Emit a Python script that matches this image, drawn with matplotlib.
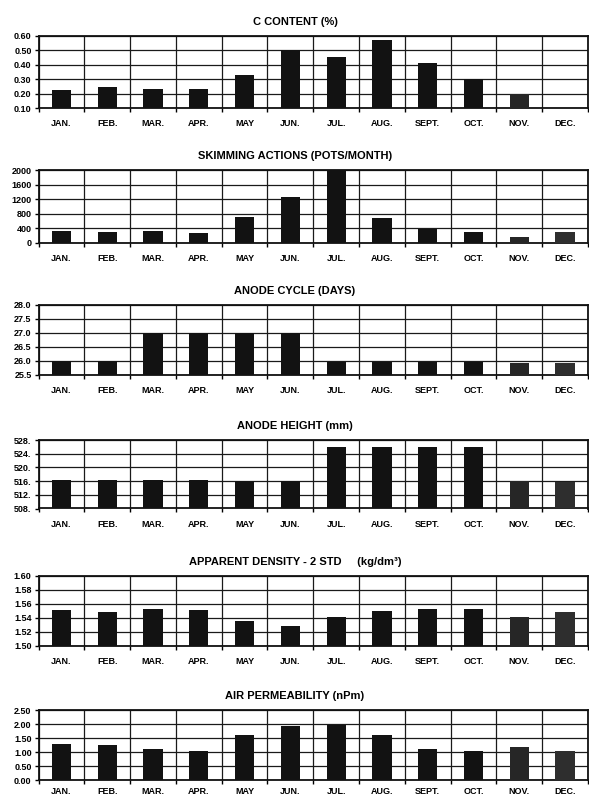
import matplotlib
matplotlib.use('Agg')
import matplotlib.pyplot as plt
import numpy as np

plt.rcParams['font.family'] = ['Liberation Sans', 'DejaVu Sans']
plt.rcParams['font.weight'] = 'bold'

meses = ['JAN.', 'FEB.', 'MAR.', 'APR.', 'MAY', 'JUN.', 'JUL.', 'AUG.', 'SEPT.', 'OCT.', 'NOV.', 'DEC.']

# valores mensuales de cada indicador
c_content = [0.225, 0.245, 0.235, 0.235, 0.33, 0.50, 0.45, 0.57, 0.41, 0.305, 0.20, np.nan]
skimming = [310, 283, 320, 256, 700, 1265, 2000, 685, 365, 300, 155, 300]
anode_cycle = [26.0, 26.0, 27.0, 27.0, 27.0, 27.0, 25.95, 25.95, 25.95, 25.95, 25.92, 25.92]
anode_height = [516.4, 516.3, 516.3, 516.2, 516.1, 516.0, 526.0, 526.0, 525.9, 525.9, 515.9, 515.8]
density = [1.551, 1.548, 1.552, 1.551, 1.536, 1.529, 1.5415, 1.5495, 1.552, 1.552, 1.5415, 1.548]
air_perm = [1.27, 1.25, 1.11, 1.05, 1.62, 1.92, 1.97, 1.60, 1.095, 1.05, 1.17, 1.02]

titulos = ['C CONTENT (%)',
           'SKIMMING ACTIONS (POTS/MONTH)',
           'ANODE CYCLE (DAYS)',
           'ANODE HEIGHT (mm)',
           'APPARENT DENSITY - 2 STD     (kg/dm³)',
           'AIR PERMEABILITY (nPm)']

c_ticks = [0.10, 0.20, 0.30, 0.40, 0.50, 0.60]
skim_ticks = [0, 400, 800, 1200, 1600, 2000]
cycle_ticks = [25.5, 26.0, 26.5, 27.0, 27.5, 28.0]
height_ticks = [508, 512, 516, 520, 524, 528]
density_ticks = [1.50, 1.52, 1.54, 1.56, 1.58, 1.60]
perm_ticks = [0.00, 0.50, 1.00, 1.50, 2.00, 2.50]

series = [c_content, skimming, anode_cycle, anode_height, density, air_perm]
ticks = [c_ticks, skim_ticks, cycle_ticks, height_ticks, density_ticks, perm_ticks]
formatos = ['{:.2f}', '{:.0f}', '{:.1f}', '{:.0f}.', '{:.2f}', '{:.2f}']

W, H = 589, 798
tops = [35.7, 170, 305, 440, 575.7, 710]
alturas = [72.6, 72.7, 70, 68.5, 70.3, 70]
izq, der = 38.5, 588


def grafica(ax, valores, yt, fmt, titulo, top, pad):
    x = np.arange(len(meses))
    colores = ['#121212'] * 10 + ['#262626', '#2e2e2e']
    ax.bar(x, valores, width=0.42, color=colores, zorder=3)
    ax.set_xlim(-0.5, 11.5)
    ax.set_ylim(yt[0], yt[-1])
    ax.set_yticks(yt)
    ax.set_yticklabels([fmt.format(v) for v in yt])
    ax.set_xticks(x)
    ax.set_xticklabels(meses)
    ax.set_xticks(np.arange(-0.5, 12, 1), minor=True)
    ax.tick_params(axis='x', which='major', length=0, pad=pad, labelsize=6.5)
    ax.tick_params(axis='x', which='minor', length=3, width=1, direction='out', color='k')
    ax.tick_params(axis='y', length=3, width=1, direction='out', pad=2, labelsize=6.5)
    ax.yaxis.grid(True, color='#1a1a1a', lw=0.9)
    ax.xaxis.grid(True, which='minor', color='#1a1a1a', lw=0.9)
    ax.set_axisbelow(True)
    for s in ax.spines.values():
        s.set_linewidth(1.3)
        s.set_color('#111111')
    fig.text(295 / W, 1 - (top - 14) / H, titulo, ha='center', va='center',
             fontsize=8, fontweight='bold')


fig = plt.figure(figsize=(W / 100, H / 100), dpi=100)
for i in range(0, len(series)):
    ax = fig.add_axes([izq / W, 1 - (tops[i] + alturas[i]) / H, (der - izq) / W, alturas[i] / H])
    # la ultima fila queda pegada al borde inferior
    pad = 5 if i == len(series) - 1 else 8
    grafica(ax, series[i], ticks[i], formatos[i], titulos[i], tops[i], pad)

fig.savefig('out.png', dpi=100)
